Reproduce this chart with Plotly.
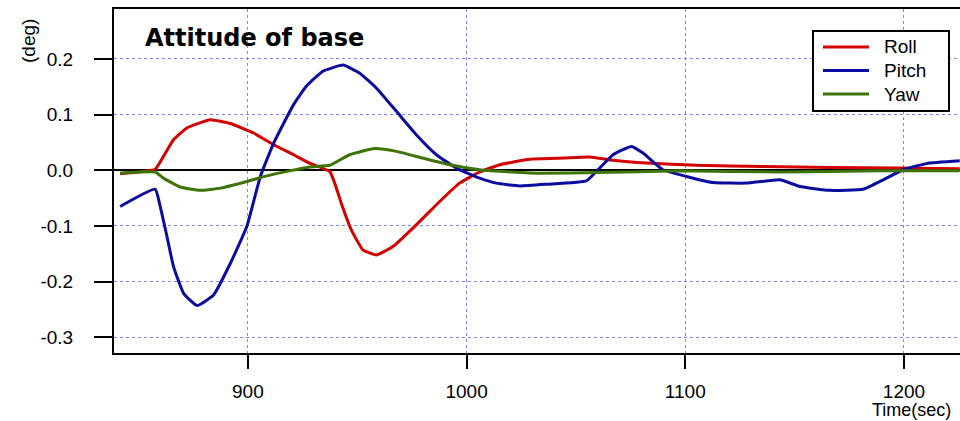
import plotly.graph_objects as go

roll_t = [841.6, 857.6, 861.4, 866.0, 872.1, 882.8, 892.0, 902.6, 911.8, 920.9, 928.2, 937.4, 939.7,
          942.7, 947.3, 952.6, 958.7, 966.3, 977.0, 987.7, 996.8, 1006.0, 1015.2, 1028.9, 1044.1,
          1056.3, 1067.0, 1082.3, 1105.1, 1135.6, 1166.1, 1196.6, 1225.5]
roll_v = [-0.006, 0.002, 0.025, 0.055, 0.076, 0.091, 0.084, 0.067, 0.046, 0.028, 0.013, -0.002, -0.023,
          -0.059, -0.107, -0.143, -0.152, -0.137, -0.098, -0.056, -0.023, -0.003, 0.010, 0.020, 0.022,
          0.024, 0.018, 0.013, 0.009, 0.007, 0.005, 0.004, 0.003]

pitch_t = [841.6, 857.6, 859.9, 863.0, 866.0, 870.6, 876.7, 884.3, 892.0, 899.5, 905.7, 911.8, 920.9,
           926.7, 934.3, 943.5, 951.0, 958.7, 967.9, 977.0, 986.2, 995.3, 1006.0, 1013.6, 1024.3,
           1036.5, 1054.8, 1060.1, 1067.0, 1075.4, 1080.7, 1089.8, 1100.5, 1112.7, 1128.0, 1143.2,
           1152.4, 1166.1, 1181.3, 1190.5, 1199.6, 1210.3, 1225.5]
pitch_v = [-0.065, -0.034, -0.065, -0.119, -0.173, -0.221, -0.243, -0.224, -0.167, -0.101, -0.011, 0.049,
           0.118, 0.151, 0.178, 0.189, 0.175, 0.148, 0.106, 0.064, 0.028, 0.004, -0.014, -0.023, -0.028,
           -0.025, -0.019, 0.001, 0.028, 0.043, 0.031, 0.001, -0.011, -0.022, -0.023, -0.017,
           -0.029, -0.036, -0.034, -0.017, 0.001, 0.012, 0.017]

yaw_t = [841.6, 857.6, 861.4, 869.0, 878.2, 887.4, 899.5, 908.7, 919.0, 928.2, 937.4, 946.5, 958.0,
         967.9, 980.0, 992.3, 1006.0, 1028.9, 1059.4, 1097.5, 1143.2, 1189.0, 1225.5]
yaw_v = [-0.005, -0.003, -0.014, -0.030, -0.036, -0.032, -0.020, -0.010, -0.001, 0.006, 0.009, 0.028, 0.039,
         0.034, 0.022, 0.010, 0.001, -0.005, -0.004, -0.001, -0.003, -0.001, -0.001]

series_names = ["Roll", "Pitch", "Yaw"]
series_colors = ["#d40000", "#0c0ca0", "#3c7405"]

x_ticks = [900, 1000, 1100, 1200]
y_ticks = [-0.3, -0.2, -0.1, 0.0, 0.1, 0.2]
y_tick_labels = ["-0.3", "-0.2", "-0.1", "0.0", "0.1", "0.2"]

FONT = "Liberation Sans, Arial, sans-serif"
W, H = 960, 421
L, R, T, B = 114, 0, 9, 68
PW, PH = W - L - R, H - T - B


def px(xp):
    return (xp - L) / PW


def py(yp):
    return (H - B - yp) / PH


fig = go.Figure()
for name, t, v, c in zip(series_names, [roll_t, pitch_t, yaw_t], [roll_v, pitch_v, yaw_v], series_colors):
    fig.add_trace(go.Scatter(x=t, y=v, mode="lines", name=name,
                             line=dict(color=c, width=3, shape="spline", smoothing=0.4)))

grid_color = "rgba(110,110,255,0.85)"
fig.update_layout(
    width=W, height=H,
    margin=dict(l=L, r=R, t=T, b=B),
    paper_bgcolor="white", plot_bgcolor="white",
    font=dict(family=FONT, size=19, color="black"),
    showlegend=False,
    xaxis=dict(range=[838.78, 1225.62], tickvals=x_ticks,
               showline=True, linecolor="black", linewidth=2, mirror=True,
               ticks="outside", ticklen=14, tickwidth=2, tickcolor="black",
               showgrid=True, gridcolor=grid_color, griddash="dot", gridwidth=1,
               zeroline=False, ticklabelstandoff=6,
               tickfont=dict(size=19, family=FONT)),
    yaxis=dict(range=[-0.3282, 0.2898], tickvals=y_ticks, ticktext=y_tick_labels,
               showline=True, linecolor="black", linewidth=2,
               ticks="outside", ticklen=18, tickwidth=2, tickcolor="black",
               showgrid=True, gridcolor=grid_color, griddash="dot", gridwidth=1,
               zeroline=True, zerolinecolor="black", zerolinewidth=2,
               ticklabelstandoff=17,
               tickfont=dict(size=19, family=FONT)),
)

# legend box (drawn to match the reference's compact legend)
fig.add_shape(type="rect", xref="paper", yref="paper",
              x0=px(813), x1=px(949), y0=py(111), y1=py(31),
              line=dict(color="black", width=2), fillcolor="white", layer="above")
legend_rows = [47, 70.5, 94]
for name, c, yr in zip(series_names, series_colors, legend_rows):
    fig.add_shape(type="line", xref="paper", yref="paper",
                  x0=px(823), x1=px(869), y0=py(yr), y1=py(yr),
                  line=dict(color=c, width=3), layer="above")
    fig.add_annotation(text=name, xref="paper", yref="paper",
                       x=px(882), y=py(yr), xanchor="left", yanchor="middle",
                       showarrow=False, font=dict(size=19, family=FONT, color="black"))

fig.add_annotation(text="<b>Attitude of base</b>", xref="paper", yref="paper",
                   x=px(143), y=py(38), xanchor="left", yanchor="middle",
                   showarrow=False, font=dict(size=24, family="DejaVu Sans", color="black"))
fig.add_annotation(text="(deg)", xref="paper", yref="paper",
                   x=px(28), y=py(41), xanchor="center", yanchor="middle",
                   textangle=-90, showarrow=False, font=dict(size=19, family=FONT, color="black"))
fig.add_annotation(text="Time(sec)", xref="paper", yref="paper",
                   x=px(870), y=py(409.5), xanchor="left", yanchor="middle",
                   showarrow=False, font=dict(size=18, family=FONT, color="black"))

fig.write_html("out.html", config={"displayModeBar": False},
               post_script="document.body.style.margin='0';")
